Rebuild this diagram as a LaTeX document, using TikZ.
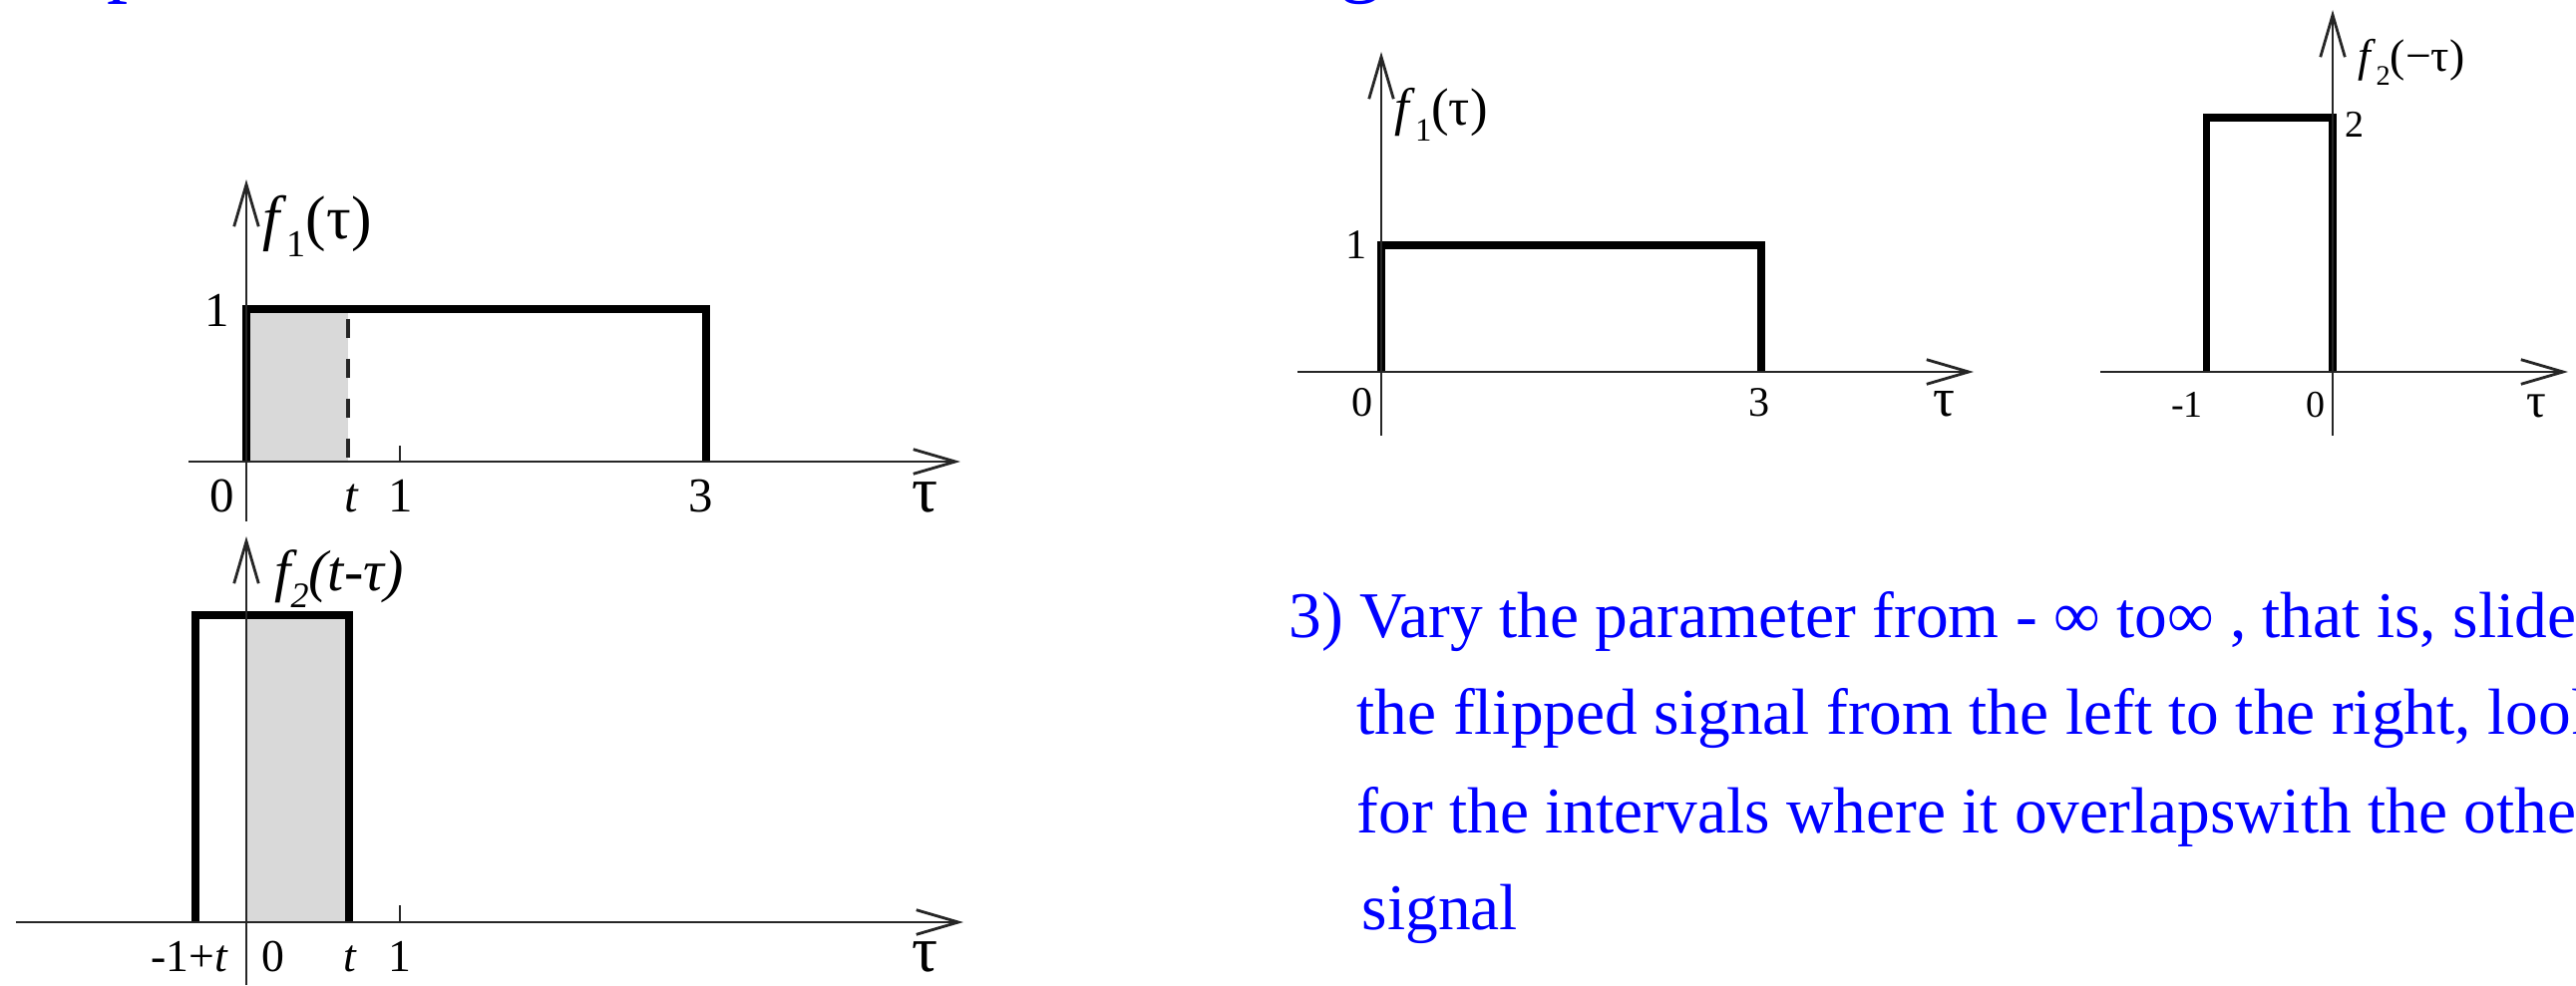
\documentclass[tikz,border=0pt]{standalone}
\usepackage{fontspec}
\usepackage{graphicx}
\setmainfont{Liberation Serif}
\usetikzlibrary{arrows.meta}
\definecolor{lightshade}{gray}{0.85}
\definecolor{axiscol}{gray}{0.15}
\definecolor{pureblue}{rgb}{0,0,1}
\newcommand{\lsub}[1]{\raisebox{-0.3em}{\scalebox{0.62}{#1}}}
\begin{document}
\begin{tikzpicture}[x=0.01cm,y=-0.01cm,
  axisarrow/.style={draw=axiscol, line width=0.8pt, -{Straight Barb[length=12pt,width=7pt]}},
  axisplain/.style={draw=axiscol, line width=0.8pt},
  sigbig/.style={line width=2.5pt, line join=miter},
  sigsmall/.style={line width=2.2pt, line join=miter},
  dashline/.style={draw=axiscol, line width=0.9pt, dash pattern=on 5.4pt off 6pt},
  lab/.style={inner sep=0pt, anchor=base},
  labc/.style={inner sep=0pt, anchor=center},
  bluetxt/.style={inner sep=0pt, anchor=base west, text=pureblue, font=\fontsize{18.6}{22}\selectfont},
  sizeA/.style={font=\fontsize{13.9}{16}\selectfont},
  sizeB/.style={font=\fontsize{13}{15}\selectfont},
  sizeC/.style={font=\fontsize{12}{14}\selectfont},
  sizeD/.style={font=\fontsize{10.8}{13}\selectfont}]
\useasboundingbox (0,0) rectangle (2583,988);

% clipped title fragments at the top edge
\begin{scope}
\clip (0,0) rectangle (2583,6);
\node[inner sep=0pt, anchor=base west, text=pureblue, font=\fontsize{24}{28}\selectfont] (tp) at (107,-13) {p};
\node[inner sep=0pt, anchor=base west, text=pureblue, font=\fontsize{24}{28}\selectfont] (tg) at (1343,-13) {g};
\end{scope}

% ---------------- Graph A (top left) ----------------
\coordinate (aXs) at (189,463);
\coordinate (aXe) at (963,463);
\coordinate (aYs) at (247,523);
\coordinate (aYe) at (247,180);
\coordinate (aT1) at (401,447);
\coordinate (aT0) at (401,463);
\coordinate (aDt) at (349,320);
\coordinate (aDb) at (349,463);
\fill[lightshade] (247,310) rectangle (349,463);
\draw[dashline] (aDt) -- (aDb);
\draw[sigbig] (247,463) |- (708,310) -- (708,463);
\draw[axisarrow] (aXs) -- (aXe);
\draw[axisarrow] (aYs) -- (aYe);
\draw[axisplain] (aT1) -- (aT0);
\node[lab,sizeA] (a0) at (222.5,513) {0};
\node[lab,sizeA] (at) at (353,513) {\textit{t}};
\node[lab,sizeA] (a1) at (401.5,513) {1};
\node[lab,sizeA] (a3) at (703,513) {3};
\node[lab,font=\fontsize{18.5}{20}\selectfont] (atau) at (928,513) {τ};
\node[lab,sizeA] (ay1) at (217.5,327) {1};
\node[lab,font=\fontsize{17.5}{20}\selectfont] (af) at (318,239) {\textit{f}\lsub{1}(τ)};

% ---------------- Graph B (bottom left) ----------------
\coordinate (bXs) at (16,925);
\coordinate (bXe) at (966,925);
\coordinate (bYs) at (247,988);
\coordinate (bYe) at (247,538);
\coordinate (bT1) at (401,908);
\coordinate (bT0) at (401,925);
\fill[lightshade] (247,617) rectangle (350,925);
\draw[sigbig] (196,925) |- (350,617) -- (350,925);
\draw[axisarrow] (bXs) -- (bXe);
\draw[axisarrow] (bYs) -- (bYe);
\draw[axisplain] (bT1) -- (bT0);
\node[lab,sizeB] (bm1) at (190,974) {-1+\textit{t}};
\node[lab,sizeB] (b0) at (274,974) {0};
\node[lab,sizeB] (bt) at (351,974) {\textit{t}};
\node[lab,sizeB] (b1) at (401,974) {1};
\node[lab,font=\fontsize{18.5}{20}\selectfont] (btau) at (928,974) {τ};
\node[lab,font=\fontsize{16.5}{19}\selectfont] (bf) at (340,592) {\itshape f\lsub{2}(t-τ)};

% ---------------- Graph C (top right) ----------------
\coordinate (cXs) at (1301,373);
\coordinate (cXe) at (1979,373);
\coordinate (cYs) at (1385,437);
\coordinate (cYe) at (1385,52);
\draw[sigsmall] (1385,373) |- (1766,246) -- (1766,373);
\draw[axisarrow] (cXs) -- (cXe);
\draw[axisarrow] (cYs) -- (cYe);
\node[lab,sizeC] (c0) at (1366,417) {0};
\node[lab,sizeC] (c3) at (1764,417) {3};
\node[lab,font=\fontsize{15.5}{18}\selectfont] (ctau) at (1949,417) {τ};
\node[lab,sizeC] (cy1) at (1360,259) {1};
\node[lab,font=\fontsize{15}{18}\selectfont] (cf) at (1445,126) {\textit{f}\lsub{1}(τ)};

% ---------------- Graph D (top far right) ----------------
\coordinate (dXs) at (2106,373);
\coordinate (dXe) at (2575,373);
\coordinate (dYs) at (2339,437);
\coordinate (dYe) at (2339,10);
\draw[sigsmall] (2212.5,373) |- (2339,118) -- (2339,373);
\draw[axisarrow] (dXs) -- (dXe);
\draw[axisarrow] (dYs) -- (dYe);
\node[lab,sizeD] (dm1) at (2193,418) {-1};
\node[lab,sizeD] (d0) at (2322,418) {0};
\node[lab,font=\fontsize{14}{16}\selectfont] (dtau) at (2543,418) {τ};
\node[lab,sizeD] (dy2) at (2361,137) {2};
\node[lab,font=\fontsize{13}{15}\selectfont] (df) at (2418,72) {\textit{f}\lsub{2}(−τ)};

% ---------------- Blue text ----------------
\node[bluetxt] (l1) at (1292,639) {3) Vary the parameter from - ∞ to∞ , that is, slide};
\node[bluetxt] (l2) at (1360,736) {the flipped signal from the left to the right, look};
\node[bluetxt] (l3) at (1360,835) {for the intervals where it overlapswith the other};
\node[bluetxt] (l4) at (1365,932) {signal};
\end{tikzpicture}
\end{document}
